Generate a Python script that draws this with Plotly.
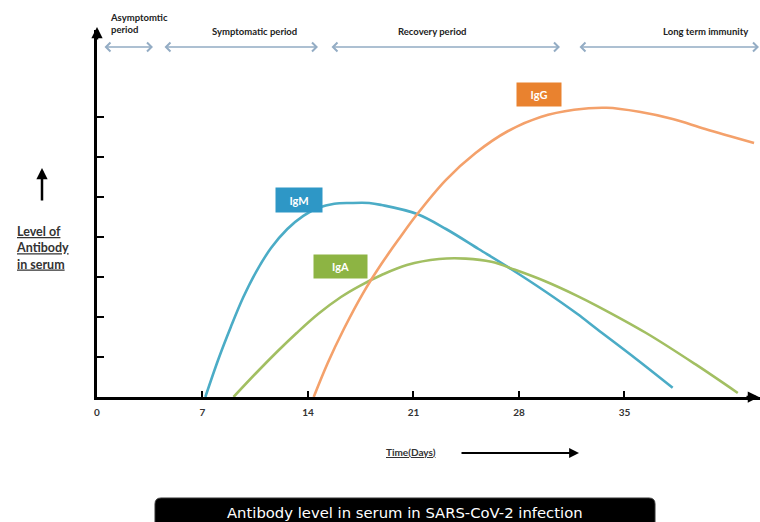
import plotly.graph_objects as go

# ---------------- data ----------------
days_igm = [7.19, 8.06, 8.88, 9.69, 10.56, 11.56, 12.63, 13.69, 14.69, 15.75, 16.81,
            18.06, 18.88, 21.2, 23.16, 25.32, 27.47, 29.7, 31.86, 33.17, 35.78, 38.2]
level_igm = [0, 0.95, 1.75, 2.48, 3.13, 3.73, 4.2, 4.53, 4.73, 4.83, 4.85,
             4.85, 4.8, 4.58, 4.2, 3.7, 3.2, 2.65, 2.08, 1.7, 0.95, 0.23]

days_iga = [9.06, 10.56, 12.0, 13.25, 14.69, 16.19, 17.44, 18.88, 20.56, 22.7,
            24.47, 26.17, 27.74, 29.7, 31.86, 33.17, 36.44, 39.7, 42.52]
level_iga = [0, 0.6, 1.15, 1.6, 2.08, 2.5, 2.78, 3.05, 3.3, 3.45,
             3.46, 3.38, 3.18, 2.9, 2.53, 2.28, 1.6, 0.82, 0.1]

days_igg = [14.38, 15.31, 16.38, 17.63, 18.88, 20.13, 21.2, 23.16, 25.12, 27.28,
            29.44, 31.66, 33.82, 35.98, 38.2, 40.36, 43.6]
level_igg = [0, 0.85, 1.7, 2.58, 3.33, 4.0, 4.55, 5.43, 6.1, 6.65,
             7.0, 7.18, 7.23, 7.13, 6.95, 6.7, 6.35]

x_ticks = [0, 7, 14, 21, 28, 35]
x_tick_labels = ["0", "7", "14", "21", "28", "35"]
y_ticks = [1, 2, 3, 4, 5, 6, 7]

series_names = ["IgM", "IgA", "IgG"]
period_labels = ["Asymptomtic<br>period", "Symptomatic period", "Recovery period", "Long term immunity"]
chart_caption = "Antibody level in serum in SARS-CoV-2 infection"
y_title = "<u>Level of</u><br><u>Antibody</u><br><u>in serum</u>"
x_title = "<u>Time(Days)</u>"

# ---------------- layout helpers ----------------
W, H = 760, 522
L, R, T, B = 97, 0, 30, 125
PW, PH = W - L - R, H - T - B


def xp(px):
    return (px - L) / PW


def yp(py):
    return (H - B - py) / PH


FONT = "Lato"
colors = {"IgM": "#4BACC6", "IgA": "#A2BF62", "IgG": "#F4A16B"}
box_colors = {"IgM": "#2E97C6", "IgA": "#8DB443", "IgG": "#E9822F"}

fig = go.Figure()
for name, xs, ys in [("IgM", days_igm, level_igm), ("IgA", days_iga, level_iga), ("IgG", days_igg, level_igg)]:
    fig.add_trace(go.Scatter(x=xs, y=ys, mode="lines", name=name,
                             line=dict(color=colors[name], width=2.6, shape="spline", smoothing=1.0),
                             hoverinfo="skip"))

annotations = []

# label boxes
box_geom = {"IgM": (299, 200, 46, 24), "IgG": (539, 95, 44, 23), "IgA": (340, 266, 53, 23)}
for name in series_names:
    cx, cy, bw, bh = box_geom[name]
    annotations.append(dict(xref="paper", yref="paper", x=xp(cx), y=yp(cy), text="<b>" + name + "</b>",
                            showarrow=False, bgcolor=box_colors[name], width=bw - 4, height=bh - 4,
                            borderpad=2, font=dict(family=FONT, size=11, color="white"),
                            xanchor="center", yanchor="middle"))

# period texts
annotations.append(dict(xref="paper", yref="paper", x=xp(108), y=yp(10), text="<b>" + period_labels[0] + "</b>",
                        showarrow=False, xanchor="left", yanchor="top", align="left",
                        font=dict(family=FONT, size=9.5, color="#222")))
for lab, cx in zip(period_labels[1:], [254, 432, 705]):
    annotations.append(dict(xref="paper", yref="paper", x=xp(cx), y=yp(32), text="<b>" + lab + "</b>",
                            showarrow=False, xanchor="center", yanchor="middle",
                            font=dict(family=FONT, size=9.5, color="#222")))

# period arrows
for x0, x1 in [(103, 153), (163, 318), (330, 560), (578, 759)]:
    annotations.append(dict(xref="paper", yref="paper", x=xp(x1), y=yp(47), ax=x0 - x1, ay=0,
                            axref="pixel", ayref="pixel", text="", showarrow=True,
                            arrowhead=4, startarrowhead=4, arrowside="end+start",
                            arrowsize=1.1, startarrowsize=1.1, arrowwidth=1.6, arrowcolor="#93ACC4"))

# axis arrow heads
annotations.append(dict(xref="paper", yref="paper", x=xp(97), y=yp(27), ax=0, ay=14, text="",
                        showarrow=True, arrowhead=2, arrowsize=0.9, arrowwidth=2.5, arrowcolor="black"))
annotations.append(dict(xref="paper", yref="paper", x=xp(759), y=yp(397), ax=-14, ay=0, text="",
                        showarrow=True, arrowhead=2, arrowsize=0.9, arrowwidth=2.5, arrowcolor="black"))

# y title and arrow
annotations.append(dict(xref="paper", yref="paper", x=xp(42), y=yp(168), ax=0, ay=34, text="",
                        showarrow=True, arrowhead=2, arrowsize=0.9, arrowwidth=2.5, arrowcolor="black"))
annotations.append(dict(xref="paper", yref="paper", x=xp(14), y=yp(222), text="<b>" + y_title + "</b>",
                        showarrow=False, xanchor="left", yanchor="top", align="left",
                        font=dict(family=FONT, size=12.5, color="#333")))

# x title and arrow
annotations.append(dict(xref="paper", yref="paper", x=xp(411), y=yp(452), text="<b>" + x_title + "</b>",
                        showarrow=False, xanchor="center", yanchor="middle",
                        font=dict(family=FONT, size=10, color="#333")))
annotations.append(dict(xref="paper", yref="paper", x=xp(579), y=yp(453), ax=-119, ay=0, text="",
                        showarrow=True, arrowhead=2, arrowsize=0.9, arrowwidth=2.2, arrowcolor="black"))

# caption
annotations.append(dict(xref="paper", yref="paper", x=xp(405), y=yp(512), text=chart_caption,
                        showarrow=False, xanchor="center", yanchor="middle",
                        font=dict(family="DejaVu Sans", size=14.8, color="white")))

# rounded black caption box
x0, x1, y0, y1, r = 155, 655, 498, 530, 6
path = (f"M {xp(x0)},{yp(y1)} L {xp(x0)},{yp(y0 + r)} Q {xp(x0)},{yp(y0)} {xp(x0 + r)},{yp(y0)} "
        f"L {xp(x1 - r)},{yp(y0)} Q {xp(x1)},{yp(y0)} {xp(x1)},{yp(y0 + r)} L {xp(x1)},{yp(y1)} Z")
shapes = [dict(type="path", xref="paper", yref="paper", path=path, fillcolor="black",
               line=dict(color="#333", width=1), layer="below")]

fig.update_layout(
    width=W, height=H, margin=dict(l=L, r=R, t=T, b=B),
    paper_bgcolor="white", plot_bgcolor="white", showlegend=False,
    annotations=annotations, shapes=shapes,
    xaxis=dict(range=[0, PW / 15.07], showgrid=False, zeroline=False, showline=True,
               linecolor="black", linewidth=2.5, ticks="inside", ticklen=6, tickwidth=2,
               tickcolor="black", tickvals=x_ticks, ticktext=x_tick_labels,
               tickfont=dict(family=FONT, size=10, color="#333", weight="bold"),
               ticklabelstandoff=4),
    yaxis=dict(range=[0, PH / 40], showgrid=False, zeroline=False, showline=True,
               linecolor="black", linewidth=2.5, ticks="inside", ticklen=7, tickwidth=2,
               tickcolor="black", tickvals=y_ticks, showticklabels=False),
)

fig.write_html("out.html", config={"displayModeBar": False},
               post_script="document.body.style.margin='0';document.body.style.overflow='hidden';")
